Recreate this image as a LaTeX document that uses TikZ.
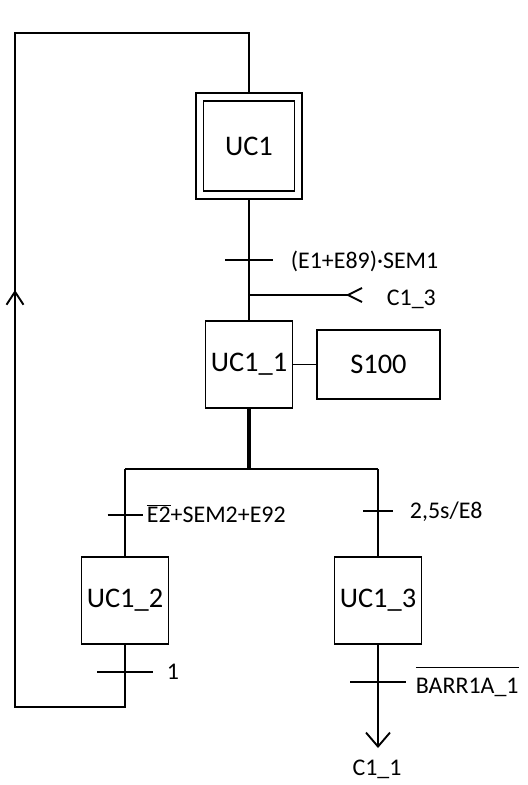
\documentclass[tikz,border=0pt]{standalone}
\usepackage{fontspec}
\setmainfont{Carlito}
\usetikzlibrary{arrows.meta}
\begin{document}
\begin{tikzpicture}[x=1bp,y=-1bp,line width=1.9bp,line join=miter,
  bigfont/.style={font=\fontsize{28.5}{30}\selectfont},
  stepbox/.style={draw,minimum width=87bp,minimum height=87bp,inner sep=0pt,bigfont},
  lbl/.style={inner sep=0pt,font=\fontsize{24}{26}\selectfont},
  trbar/.style={line width=2.4bp}]
\useasboundingbox (0,0) rectangle (528,785);
% steps
\node[draw,minimum width=106bp,minimum height=106bp,inner sep=0pt] (uc1o) at (249,146) {};
\node[stepbox,minimum width=91bp,minimum height=90bp] (uc1) at (249,146) {UC1};
\node[stepbox] (uc11) at (249,364.5) {UC1\_1};
\node[draw,minimum width=123bp,minimum height=69bp,inner sep=0pt,bigfont] (s100) at (378.5,364.5) {S100};
\node[stepbox] (uc12) at (125,600.5) {UC1\_2};
\node[stepbox] (uc13) at (378,600.5) {UC1\_3};
% coordinates
\coordinate (top) at (249,33);
\coordinate (lt) at (15,33);
\coordinate (lb) at (15,707);
\coordinate (up) at (15,290);
\coordinate (t1) at (249,260);
\coordinate (j1) at (249,295);
\coordinate (c13) at (348,295);
\coordinate (div) at (249,469);
\coordinate (dl) at (125,469);
\coordinate (dr) at (378,469);
\coordinate (t2) at (125,515);
\coordinate (t3) at (378,511);
\coordinate (t4) at (125,672);
\coordinate (t5) at (378,682);
\coordinate (endarr) at (378,748);
% connectors
\draw (uc1o.north) -- (top) -- (lt) -- (lb) -| (uc12.south);
\draw[-{Straight Barb[length=13bp,width=17bp]}] (lb) -- (up);
\draw (uc1o.south) -- (uc11.north);
\draw (j1) -- (c13);
\draw ([shift={(14,-7)}]c13) -- (c13) -- ([shift={(14,7)}]c13);
\draw (uc11) -- (s100);
\draw[line width=3.4bp] (uc11.south) -- (div);
\draw (dl) -- (dr);
\draw (dl) -- (uc12.north);
\draw (dr) -- (uc13.north);
\draw[-{Straight Barb[length=14bp,width=24bp]}] (uc13.south) -- (endarr);
% transition bars
\draw[trbar] ([xshift=-24]t1) -- ([xshift=24]t1);
\draw[trbar] ([xshift=-17.5]t2) -- ([xshift=18]t2);
\draw[trbar] ([xshift=-15]t3) -- ([xshift=15]t3);
\draw[trbar] ([xshift=-28]t4) -- ([xshift=28]t4);
\draw[trbar] ([xshift=-28]t5) -- ([xshift=28]t5);
% labels
\node[lbl,anchor=base west] (l1) at (290,268) {(E1+E89)·SEM1};
\node[lbl,anchor=base west] (l2) at (386,305) {C1\_3};
\node[lbl,anchor=base west] (l3) at (146,522) {$\overline{\mbox{E2}}$+SEM2+E92};
\node[lbl,anchor=base west] (l4) at (409,518) {2,5s/E8};
\node[lbl,anchor=base west] (l5) at (166,679) {1};
\node[lbl,anchor=base west] (l6) at (415,693) {$\overline{\mbox{BARR1A\_1}\rule{0pt}{24bp}}$};
\node[lbl,anchor=base] (l7) at (377,775) {C1\_1};
\end{tikzpicture}
\end{document}
